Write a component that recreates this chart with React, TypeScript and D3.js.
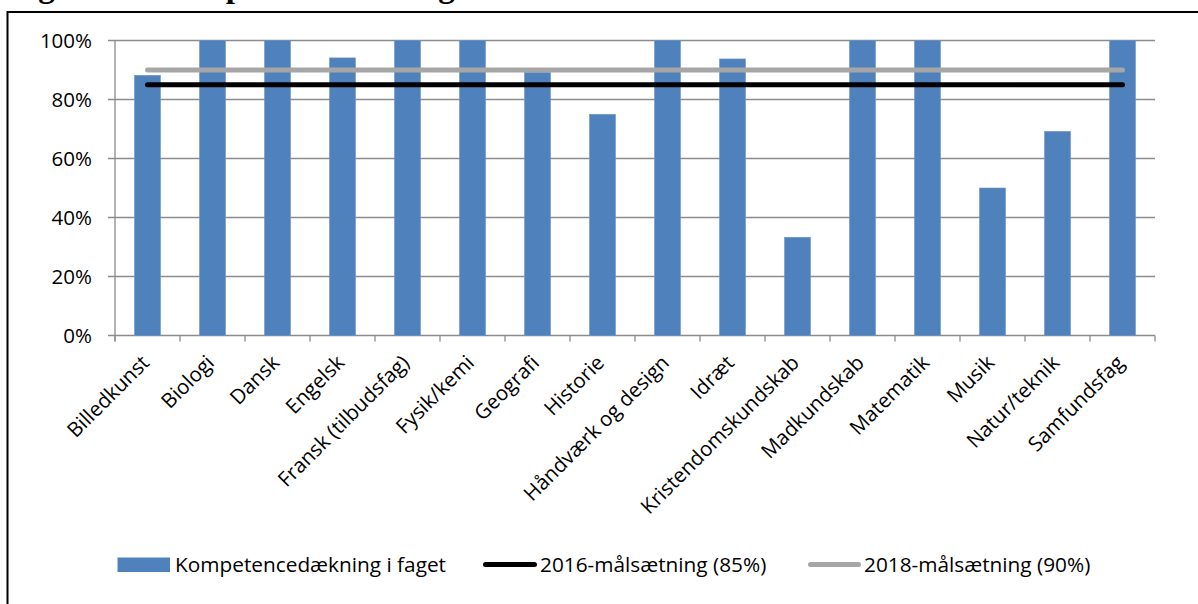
import React from "react";
import * as d3 from "d3";

const categories = [
  "Billedkunst",
  "Biologi",
  "Dansk",
  "Engelsk",
  "Fransk (tilbudsfag)",
  "Fysik/kemi",
  "Geografi",
  "Historie",
  "Håndværk og design",
  "Idræt",
  "Kristendomskundskab",
  "Madkundskab",
  "Matematik",
  "Musik",
  "Natur/teknik",
  "Samfundsfag",
];

const coverage = [0.882, 1, 1, 0.941, 1, 1, 0.892, 0.75, 1, 0.9375, 0.333, 1, 1, 0.5, 0.692, 1];
const target2016 = [0.85, 0.85, 0.85, 0.85, 0.85, 0.85, 0.85, 0.85, 0.85, 0.85, 0.85, 0.85, 0.85, 0.85, 0.85, 0.85];
const target2018 = [0.9, 0.9, 0.9, 0.9, 0.9, 0.9, 0.9, 0.9, 0.9, 0.9, 0.9, 0.9, 0.9, 0.9, 0.9, 0.9];
const yTicks = [0, 0.2, 0.4, 0.6, 0.8, 1];

const seriesNames = ["Kompetencedækning i faget", "2016-målsætning (85%)", "2018-målsætning (90%)"];
const titleText = "Figur 3.1: Kompetencedækning i skoleåret 2017/18";

const W = 1198;
const H = 604;
const FONT = "'Open Sans', sans-serif";
const FS = 20.5;
const LFS = 20.8;
const BLUE = "#4F81BD";
const GREY_LINE = "#A6A6A6";
const AXIS = "#8C8C8C";

export default function App() {
  const plotLeft = 115;
  const plotRight = 1155;
  const x = d3
    .scaleBand<string>()
    .domain(categories)
    .range([plotLeft, plotRight])
    .paddingInner(0.6)
    .paddingOuter(0.3);
  const y = d3.scaleLinear().domain([0, 1]).range([335.5, 40.5]);
  const step = x.step();
  const cx = (c: string) => (x(c) as number) + x.bandwidth() / 2;
  const tickXs = categories.map((c) => cx(c) - step / 2).concat([cx(categories[categories.length - 1]) + step / 2]);

  const line = d3
    .line<number>()
    .x((_, i) => cx(categories[i]))
    .y((d) => y(d));

  return (
    <div style={{ position: "absolute", left: 0, top: 0 }}>
      <svg width={W} height={H} style={{ display: "block", overflow: "hidden", background: "#fff" }}>
        <text
          x={9}
          y={-3}
          fontFamily="'Liberation Serif', 'Times New Roman', serif"
          fontWeight="bold"
          fontSize={33}
          fill="#000"
        >
          {titleText}
        </text>
        {/* frame */}
        <line x1={7.5} y1={12} x2={W + 2} y2={12} stroke="#000" strokeWidth={2} />
        <line x1={7.5} y1={11} x2={7.5} y2={H + 2} stroke="#000" strokeWidth={2} />

        {/* gridlines */}
        {yTicks.map((t) => (
          <line key={"g" + t} x1={plotLeft - 7} x2={plotRight} y1={y(t)} y2={y(t)} stroke={AXIS} strokeWidth={1.3} />
        ))}
        {/* y axis */}
        <line x1={plotLeft} x2={plotLeft} y1={y(1)} y2={y(0) + 6} stroke={AXIS} strokeWidth={1.3} />
        {yTicks.map((t) => (
          <text
            key={"yl" + t}
            x={92}
            y={y(t)}
            dy="0.36em"
            textAnchor="end"
            fontFamily={FONT}
            fontSize={FS}
            fill="#000"
          >
            {d3.format(".0%")(t)}
          </text>
        ))}
        {/* x ticks */}
        {tickXs.map((tx, i) => (
          <line key={"xt" + i} x1={tx} x2={tx} y1={y(0)} y2={y(0) + 6} stroke={AXIS} strokeWidth={1.3} />
        ))}

        {/* bars */}
        {categories.map((c, i) => (
          <rect
            key={"b" + c}
            x={x(c)}
            y={y(coverage[i])}
            width={x.bandwidth()}
            height={y(0) - y(coverage[i])}
            fill={BLUE}
            stroke="#6F97C9"
            strokeWidth={0.6}
          />
        ))}

        {/* target lines */}
        <path d={line(target2018) || ""} fill="none" stroke={GREY_LINE} strokeWidth={5} strokeLinecap="round" />
        <path d={line(target2016) || ""} fill="none" stroke="#000" strokeWidth={5} strokeLinecap="round" />

        {/* x labels */}
        {categories.map((c) => (
          <text
            key={"xl" + c}
            transform={`translate(${cx(c) + 3},${364}) rotate(-45)`}
            textAnchor="end"
            fontFamily={FONT}
            fontSize={FS}
            fill="#000"
          >
            {c}
          </text>
        ))}

        {/* legend */}
        <g fontFamily={FONT} fontSize={LFS} fill="#000">
          <rect x={117.5} y={557.5} width={52.5} height={14.5} fill={BLUE} />
          <text x={175} y={571.5}>
            {seriesNames[0]}
          </text>
          <line x1={485.5} x2={534.5} y1={564.5} y2={564.5} stroke="#000" strokeWidth={5} strokeLinecap="round" />
          <text x={540} y={571.5}>
            {seriesNames[1]}
          </text>
          <line x1={810.5} x2={858.5} y1={564.5} y2={564.5} stroke={GREY_LINE} strokeWidth={5} strokeLinecap="round" />
          <text x={864} y={571.5}>
            {seriesNames[2]}
          </text>
        </g>
      </svg>
    </div>
  );
}
